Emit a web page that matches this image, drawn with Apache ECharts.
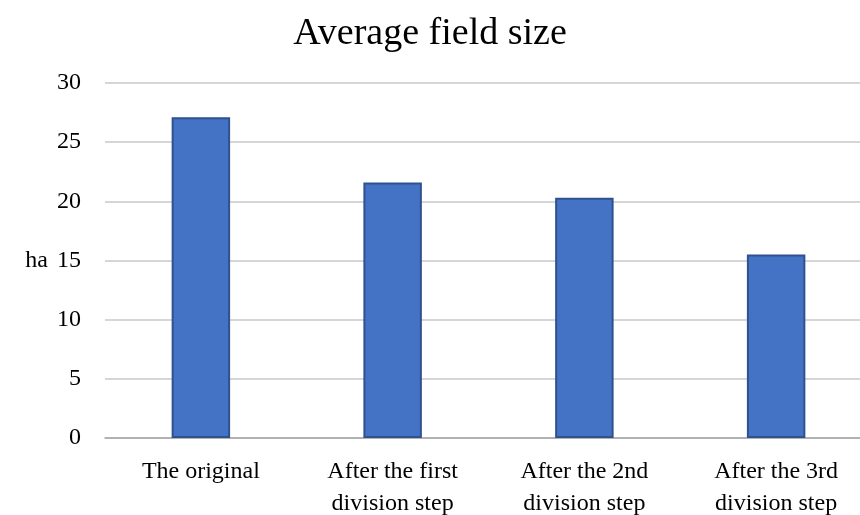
<!DOCTYPE html>
<html>
<head>
<meta charset="utf-8">
<script src="https://cdn.jsdelivr.net/npm/echarts@6/dist/echarts.min.js"></script>
<style>
  html, body { margin: 0; padding: 0; background: #fff; }
  #fieldSize { width: 860px; height: 515px; }
</style>
</head>
<body>
<div id="fieldSize"></div>
<script>
var categories = ['The original', 'After the first\ndivision step', 'After the 2nd\ndivision step', 'After the 3rd\ndivision step'];
var avgSize = [27.1, 21.6, 20.3, 15.5];
var yTicks = [0, 5, 10, 15, 20, 25, 30];

var serif = '"Liberation Serif", "DejaVu Serif", serif';

var chart = echarts.init(document.getElementById('fieldSize'));
chart.setOption({
  animation: false,
  title: {
    text: 'Average field size',
    left: 'center',
    top: 10,
    textStyle: { fontFamily: serif, fontSize: 38, fontWeight: 'normal', color: '#000' }
  },
  grid: { left: 105, top: 83, width: 767, height: 355, outerBoundsMode: 'none' },
  xAxis: {
    type: 'category',
    data: categories,
    axisLine: { lineStyle: { color: '#a6a6a6', width: 1.5 } },
    axisTick: { show: false },
    axisLabel: {
      fontFamily: serif, fontSize: 24, color: '#000',
      margin: 18, lineHeight: 32, interval: 0
    }
  },
  yAxis: {
    type: 'value',
    min: yTicks[0],
    max: yTicks[yTicks.length - 1],
    interval: 5,
    name: 'ha',
    nameLocation: 'middle',
    nameRotate: 0,
    nameGap: 57,
    nameTextStyle: { fontFamily: serif, fontSize: 24, color: '#000', align: 'right' },
    axisLine: { show: false },
    axisTick: { show: false },
    axisLabel: { fontFamily: serif, fontSize: 24, color: '#000', margin: 24 },
    splitLine: { lineStyle: { color: '#c8c8c8', width: 1.5 } }
  },
  series: [{
    type: 'bar',
    data: avgSize,
    barWidth: '30.5%',
    itemStyle: { color: '#4472c4', borderColor: '#2f528f', borderWidth: 2 }
  }]
});
</script>
</body>
</html>
